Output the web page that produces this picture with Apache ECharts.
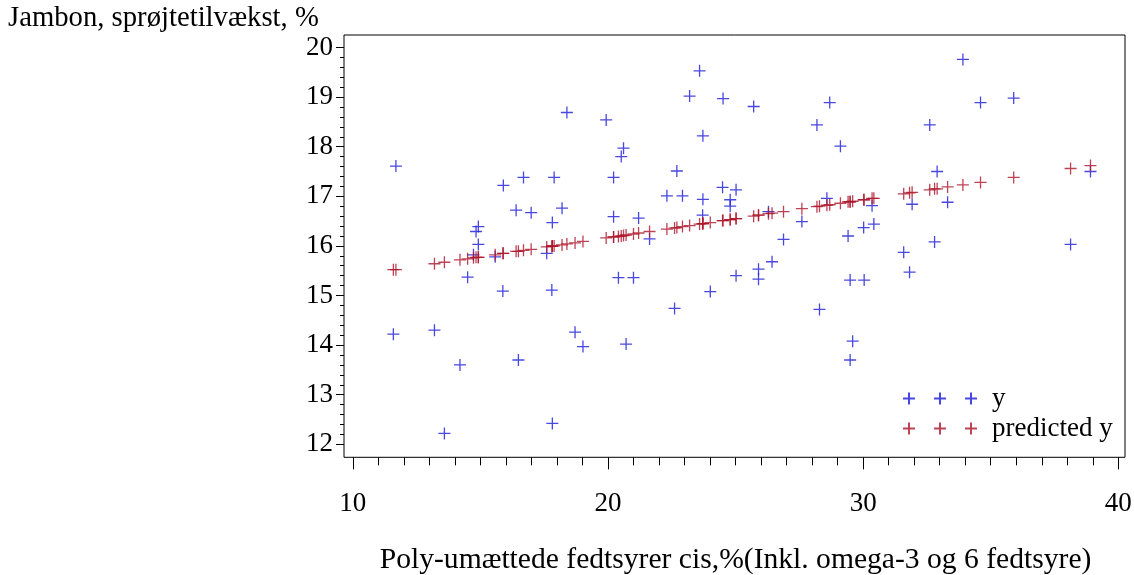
<!DOCTYPE html>
<html>
<head>
<meta charset="utf-8">
<script src="https://cdn.jsdelivr.net/npm/echarts@6/dist/echarts.min.js"></script>
<style>html,body{margin:0;padding:0;background:#fff}#c{width:1134px;height:575px}</style>
</head>
<body>
<div id="c"></div>
<script>
// ---- data ----
const xVals = [11.69,11.59,13.20,13.59,14.20,14.50,14.73,14.83,14.92,14.92,15.58,15.88,15.90,16.40,16.49,16.69,16.99,17.60,17.80,17.82,17.82,17.89,18.20,18.39,18.71,19.02,19.93,20.22,20.22,20.41,20.52,20.61,20.71,21.00,21.20,21.63,22.31,22.61,22.70,22.92,23.20,23.59,23.71,23.72,23.72,24.01,24.49,24.51,24.79,24.79,25.02,25.02,25.71,25.90,25.90,26.29,26.43,26.88,27.60,28.19,28.29,28.58,28.69,29.11,29.41,29.49,29.49,29.59,30.02,30.04,30.35,30.42,31.59,31.82,31.92,32.61,32.80,32.90,33.31,33.91,34.60,35.90,38.13,38.91];
const yVals = [17.61,14.22,14.30,12.22,13.60,15.37,15.82,16.29,16.39,16.03,15.78,15.09,17.22,16.72,13.70,17.38,16.67,15.85,15.11,16.47,12.42,17.38,16.76,18.69,14.26,13.97,18.54,17.38,16.59,15.36,17.80,17.97,14.02,15.36,16.56,16.14,17.01,14.74,17.51,17.01,19.02,19.53,16.62,18.22,16.94,15.08,17.18,18.97,16.93,16.80,17.13,15.40,18.81,15.53,15.33,16.69,15.68,16.13,16.49,18.44,14.72,16.96,18.89,18.01,16.20,15.31,13.70,14.08,16.37,15.31,16.81,16.44,15.87,15.47,16.84,18.44,16.08,17.50,16.88,19.76,18.89,18.98,16.03,17.50];
const predVals = [15.52,15.52,15.64,15.67,15.72,15.74,15.76,15.77,15.77,15.77,15.82,15.85,15.85,15.89,15.89,15.91,15.93,15.98,15.99,16.00,16.00,16.00,16.02,16.04,16.06,16.09,16.16,16.18,16.18,16.19,16.20,16.21,16.22,16.24,16.26,16.29,16.34,16.36,16.37,16.39,16.41,16.44,16.45,16.45,16.45,16.47,16.51,16.51,16.53,16.53,16.55,16.55,16.60,16.62,16.62,16.65,16.66,16.69,16.75,16.79,16.80,16.82,16.83,16.86,16.89,16.89,16.89,16.90,16.93,16.93,16.96,16.96,17.05,17.07,17.08,17.13,17.15,17.15,17.19,17.23,17.28,17.38,17.56,17.62];
const seriesNames = ['y', 'predicted y'];
const xTitle = 'Poly-umættede fedtsyrer cis,%(Inkl. omega-3 og 6 fedtsyre)';
const yTitle = 'Jambon, sprøjtetilvækst, %';
const xTicks = {min: 10, max: 40, interval: 10};
const yTicks = {min: 12, max: 20, interval: 1};

// ---- styling ----
const FONT = 'Liberation Serif';
const BLUE = '#1a1ad8';
const RED = '#ac1429';
const PLUS = 'path://M6,0V12M0,6H12';
const PLUS3 = 'path://M6,0V12M0,6H12M37,0V12M31,6H43M68,0V12M62,6H74';

const obs = xVals.map((x, i) => [x, yVals[i]]);
const pred = xVals.map((x, i) => [x, predVals[i]]);

const chart = echarts.init(document.getElementById('c'), null, {renderer: 'canvas'});
chart.setOption({
  animation: false,
  backgroundColor: '#fff',
  title: {
    text: yTitle, left: 8, top: 4, padding: 0,
    textStyle: {fontFamily: FONT, fontSize: 28.7, fontWeight: 'normal', color: '#000'}
  },
  grid: [
    {left: 352.8, right: 15.7, top: 47.5, bottom: 130.7, containLabel: false, outerBoundsMode: 'none'},
    {left: 344, right: 9, top: 35, bottom: 117.7, containLabel: false, outerBoundsMode: 'none',
     show: true, borderColor: '#000', borderWidth: 1, backgroundColor: 'transparent'}
  ],
  xAxis: [
    {
      gridIndex: 0, type: 'value', min: xTicks.min, max: xTicks.max, interval: xTicks.interval,
      position: 'bottom', offset: 13,
      axisLine: {show: false},
      axisTick: {show: true, length: 12, lineStyle: {color: '#000', width: 1}},
      minorTick: {show: true, splitNumber: 10, length: 8, lineStyle: {color: '#000', width: 1}},
      splitLine: {show: false},
      axisLabel: {margin: 33, fontFamily: FONT, fontSize: 27, color: '#000'},
      name: xTitle, nameLocation: 'middle', nameGap: 88,
      nameTextStyle: {fontFamily: FONT, fontSize: 29.6, color: '#000'}
    },
    {gridIndex: 1, type: 'value', min: 0, max: 1, show: false}
  ],
  yAxis: [
    {
      gridIndex: 0, type: 'value', min: yTicks.min, max: yTicks.max, interval: yTicks.interval,
      position: 'left', offset: 8.8,
      axisLine: {show: false},
      axisTick: {show: true, length: 8, lineStyle: {color: '#000', width: 1}},
      minorTick: {show: true, splitNumber: 5, length: 4, lineStyle: {color: '#000', width: 1}},
      splitLine: {show: false},
      axisLabel: {margin: 11, fontFamily: FONT, fontSize: 27, color: '#000'}
    },
    {gridIndex: 1, type: 'value', min: 0, max: 1, show: false}
  ],
  legend: {
    orient: 'vertical', left: 897, top: 380,
    itemWidth: 94, itemHeight: 12, itemGap: 3,
    selectedMode: false,
    textStyle: {fontFamily: FONT, fontSize: 27, color: '#000', lineHeight: 22},
    data: [{name: seriesNames[0], icon: PLUS3}, {name: seriesNames[1], icon: PLUS3}]
  },
  series: [
    {
      name: seriesNames[0], type: 'scatter', xAxisIndex: 0, yAxisIndex: 0,
      symbol: PLUS, symbolSize: 12, data: obs,
      itemStyle: {color: BLUE, borderColor: BLUE, borderWidth: 1.3}
    },
    {
      name: seriesNames[1], type: 'scatter', xAxisIndex: 0, yAxisIndex: 0,
      symbol: PLUS, symbolSize: 12, data: pred,
      itemStyle: {color: RED, borderColor: RED, borderWidth: 1.3}
    }
  ]
});
</script>
</body>
</html>
